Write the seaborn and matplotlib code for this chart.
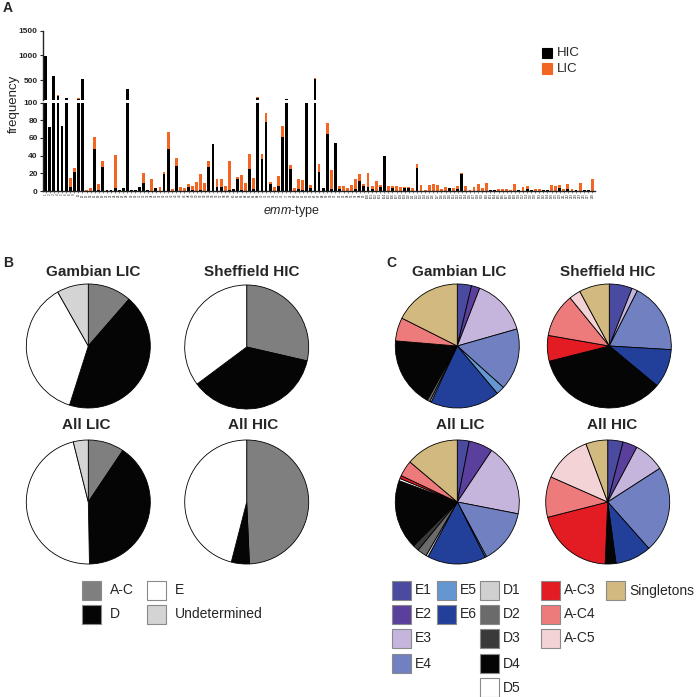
import matplotlib
matplotlib.use("Agg")
import matplotlib.pyplot as plt
import seaborn as sns
import numpy as np
import pandas as pd
from matplotlib.patches import Rectangle

# ---------------- data ----------------
emm_types = ["1","2","3","4","5","6","8","9","11","12",
             "13","14","15","18","19","22","23","24","25","26",
             "28","29","30","31","32","33","34","36","37","39",
             "41","42","43","44","46","48","49","50","52","53",
             "54","55","56","57","58","59","60","61","63","64",
             "65","66","68","70","71","73","74","75","76","77",
             "78","80","81","82","83","85","86","87","88","89",
             "90","91","92","93","94","95","97","98","99","100",
             "101","102","103","104","105","106","107","108","109","110",
             "111","112","113","114","115","116","117","118","119","120",
             "121","122","123","124","156","157","158","159","160","163",
             "164","165","166","167","168","169","170","172","174","176",
             "178","183","192","194","199","205","209","211","212","213",
             "219","223","225","227","228"]
hic_counts = [980,72,588,180,73,135,4,22,120,515,
              0,0,47,1,27,1,1,3,1,3,
              320,1,1,5,9,1,0,3,0,19,
              48,0,28,0,0,4,1,0,1,0,
              27,53,5,5,0,1,2,14,1,0,
              25,2,150,36,78,8,0,6,61,115,
              25,0,2,1,102,3,525,22,3,64,
              2,54,2,0,0,0,2,11,6,4,
              2,0,4,39,0,3,0,0,3,3,
              0,26,0,0,0,0,0,0,0,3,
              0,2,19,0,0,0,0,0,0,1,
              1,0,0,0,0,0,1,0,2,1,
              0,0,1,1,0,0,3,0,2,0,
              1,0,1,1,0]
lic_counts = [0,0,0,14,0,0,11,4,14,0,
              1,3,14,7,7,0,0,38,0,0,
              0,0,0,0,11,0,14,0,5,2,
              19,2,9,5,3,4,5,10,18,9,
              7,0,8,8,6,33,0,2,17,9,
              17,13,16,6,10,2,4,11,12,13,
              4,3,11,11,0,4,20,8,0,13,
              22,0,4,6,3,7,11,8,2,16,
              4,11,3,0,6,3,6,5,1,1,
              3,5,7,1,7,8,7,2,5,0,
              3,4,1,6,1,4,8,3,9,0,
              0,2,2,2,1,8,0,4,4,0,
              2,2,0,0,7,6,4,2,6,2,
              0,9,0,0,13]

sero_labels = ["A-C", "D", "E", "Undetermined"]
sero_colors = ["#7f7f7f", "#050505", "#ffffff", "#d4d4d4"]
sero_gambian_lic = [11.4, 43.5, 36.9, 8.2]
sero_sheffield_hic = [28.6, 36.2, 35.2, 0.0]
sero_all_lic = [9.4, 40.3, 46.4, 3.9]
sero_all_hic = [49.3, 4.7, 46.0, 0.0]

clus_labels = ["E1","E2","E3","E4","E5","E6","D1","D2","D3","D4","D5",
               "A-C3","A-C4","A-C5","Singletons"]
clus_colors = ["#4a4aa0","#5b3f9c","#c5b5dc","#7080c0","#6496d2","#22409a",
               "#d0d0d0","#6b6b6b","#3a3a3a","#050505","#ffffff",
               "#e31b23","#ee7b7b","#f3d3d6","#d1b97f"]
clus_gambian_lic = [3.7,2.2,14.7,16.1,2.2,18.1,0.4,0.7,0.3,18.0,0.0,0.0,6.1,0.0,17.6]
clus_sheffield_hic = [6.0,0.0,1.5,18.5,0.0,10.1,0.0,0.0,0.0,35.1,0.0,6.7,11.4,3.0,7.9]
clus_all_lic = [3.1,6.3,18.8,14.2,0.4,15.3,0.6,2.5,1.6,18.2,0.6,0.8,4.2,0.0,13.9]
clus_all_hic = [4.0,3.8,8.1,22.6,0.0,9.4,0.0,0.0,0.0,2.8,0.0,20.4,10.6,12.7,5.7]

# ---------------- style ----------------
sns.set_style("ticks")
plt.rcParams['font.family'] = ['Liberation Sans', 'DejaVu Sans']
plt.rcParams['mathtext.fontset'] = 'custom'
plt.rcParams['mathtext.rm'] = 'Liberation Sans'
plt.rcParams['mathtext.it'] = 'Liberation Sans:italic'

W, H = 696, 697
fig = plt.figure(figsize=(W / 100, H / 100), dpi=100)

def px_axes(x0, y0, x1, y1):
    return fig.add_axes([x0 / W, 1 - y1 / H, (x1 - x0) / W, (y1 - y0) / H])

def ftext(x, y, s, **kw):
    fig.text(x / W, 1 - y / H, s, **kw)

def fsquare(x, y, size, color, edge="#8a8a8a"):
    fig.add_artist(Rectangle((x / W, 1 - (y + size) / H), size / W, size / H,
                             transform=fig.transFigure, facecolor=color,
                             edgecolor=edge, linewidth=0.8))

ORANGE = "#f26522"
df = pd.DataFrame({"emm": emm_types,
                   "total": np.array(hic_counts) + np.array(lic_counts),
                   "hic": hic_counts})

ax_top = px_axes(43.3, 30.7, 595, 100.0)
ax_bot = px_axes(43.3, 102.5, 595, 191.0)
for ax in (ax_top, ax_bot):
    sns.barplot(data=df, x="emm", y="total", color=ORANGE, saturation=1,
                width=0.7, errorbar=None, ax=ax, linewidth=0)
    sns.barplot(data=df, x="emm", y="hic", color="black", saturation=1,
                width=0.7, errorbar=None, ax=ax, linewidth=0)
    ax.set_xlim(-0.6, len(emm_types) - 0.35)
    ax.set_xlabel("")
    ax.set_ylabel("")
    for s in ("top", "right"):
        ax.spines[s].set_visible(False)
    ax.spines["left"].set_linewidth(1.0)
    ax.tick_params(axis="y", length=2.5, width=0.8, labelsize=6, pad=1.5)

ax_top.set_ylim(100, 1500)
ax_top.set_yticks([500, 1000, 1500])
ax_top.spines["bottom"].set_visible(False)
ax_top.set_xticks([])
ax_bot.set_ylim(0, 100)
ax_bot.set_yticks([0, 20, 40, 60, 80, 100])
ax_bot.spines["bottom"].set_linewidth(1.0)
ax_bot.set_xticks(range(len(emm_types)))
ax_bot.set_xticklabels(emm_types, rotation=90, fontsize=2.2)
ax_bot.tick_params(axis="x", length=1.2, width=0.4, pad=0.5)
for ax in (ax_top, ax_bot):
    for t in ax.get_yticklabels():
        t.set_fontweight("bold")

ftext(13.5, 104, "frequency", rotation=90, ha="center", va="center", fontsize=9.5)
ftext(291, 211, r"$\it{emm}$-type", ha="center", va="center", fontsize=9)

# HIC / LIC legend
fsquare(541.7, 47.7, 10.6, "black", edge="black")
fsquare(541.7, 63.3, 10.6, ORANGE, edge=ORANGE)
ftext(556.5, 53.2, "HIC", ha="left", va="center", fontsize=9.5)
ftext(556.5, 68.8, "LIC", ha="left", va="center", fontsize=9.5)

# panel letters
ftext(3, 8, "A", ha="left", va="center", fontsize=10, fontweight="bold")
ftext(3, 263, "B", ha="left", va="center", fontsize=10, fontweight="bold")
ftext(386, 263, "C", ha="left", va="center", fontsize=10, fontweight="bold")

# ---------------- pies ----------------
def draw_pie(cx, cy, r, vals, cols):
    pad = 1.03
    ax = px_axes(cx - r * pad, cy - r * pad, cx + r * pad, cy + r * pad)
    v = [x for x in vals if x > 0]
    c = [col for x, col in zip(vals, cols) if x > 0]
    ax.pie(v, colors=c, startangle=90, counterclock=False,
           wedgeprops=dict(edgecolor="black", linewidth=0.6))
    ax.set_xlim(-pad, pad)
    ax.set_ylim(-pad, pad)
    ax.set_aspect("equal")
    ax.axis("off")

R = 62
draw_pie(88.3, 346, R, sero_gambian_lic, sero_colors)
draw_pie(246.7, 347, R, sero_sheffield_hic, sero_colors)
draw_pie(88.3, 502, R, sero_all_lic, sero_colors)
draw_pie(246.7, 502, R, sero_all_hic, sero_colors)
draw_pie(457.3, 346, R, clus_gambian_lic, clus_colors)
draw_pie(609.3, 346, R, clus_sheffield_hic, clus_colors)
draw_pie(457.3, 502, R, clus_all_lic, clus_colors)
draw_pie(607.7, 502, R, clus_all_hic, clus_colors)

tkw = dict(ha="center", va="center", fontsize=11, fontweight="bold")
ftext(93, 272, "Gambian LIC", **tkw)
ftext(251.5, 272, "Sheffield HIC", **tkw)
ftext(86, 425, "All LIC", **tkw)
ftext(253, 425, "All HIC", **tkw)
ftext(459, 272, "Gambian LIC", **tkw)
ftext(608, 272, "Sheffield HIC", **tkw)
ftext(460, 425, "All LIC", **tkw)
ftext(612, 425, "All HIC", **tkw)

# ---------------- legends ----------------
SQ = 19
b_pos = [(82, 581), (82, 605), (147, 581), (147, 605)]
for (x, y), lab, col in zip(b_pos, sero_labels, sero_colors):
    fsquare(x, y, SQ, col)
    ftext(x + 28, y + SQ / 2, lab, ha="left", va="center", fontsize=10)

col_x = {"E": 392, "E2nd": 437, "D": 480, "A": 541, "S": 606}
rows_y = [581, 605, 629, 654, 678]
c_pos = {
    "E1": (392, 0), "E2": (392, 1), "E3": (392, 2), "E4": (392, 3),
    "E5": (437, 0), "E6": (437, 1),
    "D1": (480, 0), "D2": (480, 1), "D3": (480, 2), "D4": (480, 3), "D5": (480, 4),
    "A-C3": (541, 0), "A-C4": (541, 1), "A-C5": (541, 2),
    "Singletons": (606, 0),
}
for lab, col in zip(clus_labels, clus_colors):
    x, r = c_pos[lab]
    y = rows_y[r]
    fsquare(x, y, SQ, col)
    ftext(x + 23, y + SQ / 2, lab, ha="left", va="center", fontsize=10)

fig.savefig("out.png", dpi=100)
